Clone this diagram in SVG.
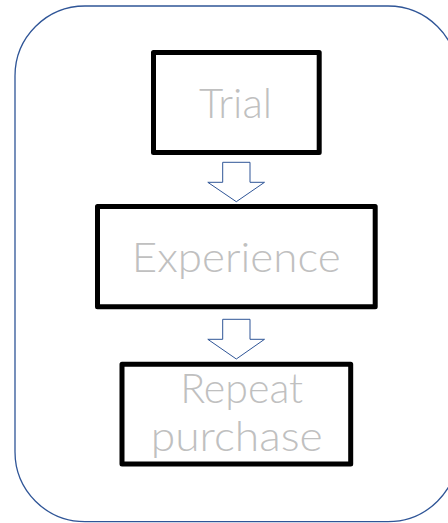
<svg xmlns="http://www.w3.org/2000/svg" width="448" height="523" viewBox="0 0 448 523">
  <style>
    .frame { fill: #ffffff; stroke: #2f5597; stroke-width: 1.3; }
    .box { fill: #ffffff; stroke: #000000; stroke-width: 5; stroke-linejoin: round; }
    .arrow { fill: #ffffff; stroke: #2f5597; stroke-width: 1; stroke-linejoin: miter; }
    .label { font-family: "Lato", "Liberation Sans", sans-serif; font-weight: 300; font-size: 41px; fill: #c0c0c0; text-anchor: middle; }
  </style>
  <rect width="448" height="523" fill="#ffffff"/>

  <!-- rounded outer frame -->
  <rect id="frame" class="frame" x="15" y="6" width="443" height="515.7" rx="70" ry="70"/>

  <!-- connectors: hollow block arrows -->
  <g id="connectors">
    <polygon class="arrow" points="222.7,162.3 250,162.3 250,182.3 264.5,182.3 236.3,201.7 207.8,182.3 222.7,182.3"/>
    <polygon class="arrow" points="222.7,319.3 250,319.3 250,339.3 264.5,339.3 236.3,359 207.8,339.3 222.7,339.3"/>
  </g>

  <g id="trial">
    <rect class="box" x="153.5" y="52.5" width="165.7" height="100"/>
    <text class="label" x="235.5" y="117.5" textLength="73" lengthAdjust="spacingAndGlyphs">Trial</text>
  </g>

  <g id="experience">
    <rect class="box" x="97.5" y="206.5" width="277.7" height="100.3"/>
    <text class="label" x="236.2" y="271.7" textLength="209" lengthAdjust="spacingAndGlyphs">Experience</text>
  </g>

  <g id="repeat-purchase">
    <rect class="box" x="122" y="364.3" width="228.7" height="99.7"/>
    <text class="label" x="241.7" y="403" textLength="123" lengthAdjust="spacingAndGlyphs">Repeat</text>
    <text class="label" x="236.7" y="451" textLength="172" lengthAdjust="spacingAndGlyphs">purchase</text>
  </g>
</svg>
